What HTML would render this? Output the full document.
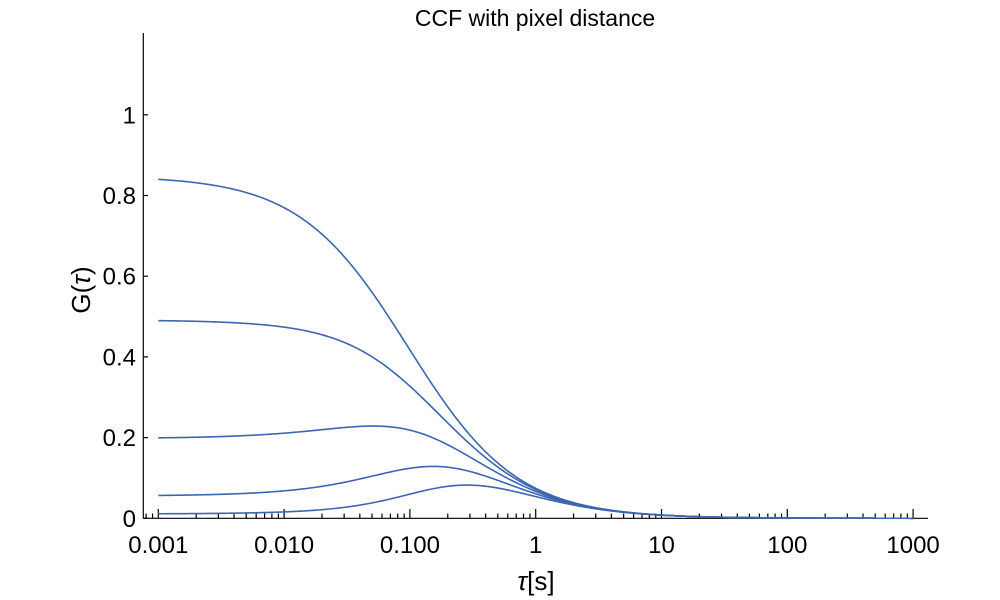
<!DOCTYPE html>
<html><head><meta charset="utf-8"><style>
html,body{margin:0;padding:0;background:#fff;}
svg{display:block;font-family:"Liberation Sans",sans-serif;}
</style></head><body>
<svg id="s" width="1000" height="600" xmlns="http://www.w3.org/2000/svg">
<text x="535" y="26" font-size="23" text-anchor="middle">CCF with pixel distance</text>
<g id="ax" stroke="#000" stroke-width="1.2" fill="none"></g>
<g id="lab" font-size="24" fill="#000"></g>
<g id="cv" stroke="#3d66b0" stroke-width="1.6" fill="none"></g>
<text x="90" y="290" font-size="26" text-anchor="middle" transform="rotate(-90 90 290)">G(<tspan font-style="italic">τ</tspan>)</text>
<text x="536" y="590" font-size="26" text-anchor="middle"><tspan font-style="italic">τ</tspan>[s]</text>
</svg>
<script>
var NS="http://www.w3.org/2000/svg";
function el(p,t,a,txt){var e=document.createElementNS(NS,t);for(var k in a)e.setAttribute(k,a[k]);if(txt!=null)e.textContent=txt;p.appendChild(e);return e;}
var ax=document.getElementById('ax'),lab=document.getElementById('lab'),cv=document.getElementById('cv');
var X=function(l){return 158.3+125.8*(l+3);},Y=function(v){return 518.3-403.5*v;};
el(ax,'line',{x1:143.3,y1:33,x2:143.3,y2:518.3});
el(ax,'line',{x1:143.3,y1:518.3,x2:928,y2:518.3});
var yl=["0","0.2","0.4","0.6","0.8","1"];
for(var i=0;i<=5;i++){var y=Y(i*0.2);el(ax,'line',{x1:143.3,y1:y,x2:148,y2:y});el(lab,'text',{x:136,y:y+8.5,'text-anchor':'end'},yl[i]);}
var xl=["0.001","0.010","0.100","1","10","100","1000"];
for(var d=-3;d<=3;d++){var x=X(d);el(ax,'line',{x1:x,y1:518.3,x2:x,y2:509});el(lab,'text',{x:x,y:553,'text-anchor':'middle'},xl[d+3]);
 for(var m=2;m<=9;m++){ if(d==3)break; var xm=X(d+Math.log10(m));el(ax,'line',{x1:xm,y1:518.3,x2:xm,y2:513.5});}}
for(var m=8;m<=9;m++){var xm=X(-4+Math.log10(m));el(ax,'line',{x1:xm,y1:518.3,x2:xm,y2:513.5});}
var A=1.018,tD=0.08;
for(var n=1;n<=5;n++){
 var c=0.182*n*n, d="";
 for(var l=-3;l<=3.0001;l+=0.01){
  var t=Math.pow(10,l),u=1+t/tD,g=A/u*Math.exp(-c/u);
  d+=(d?" L":"M")+X(l).toFixed(2)+","+Y(g).toFixed(2);
 }
 el(cv,'path',{d:d});
}
</script>
</body></html>
